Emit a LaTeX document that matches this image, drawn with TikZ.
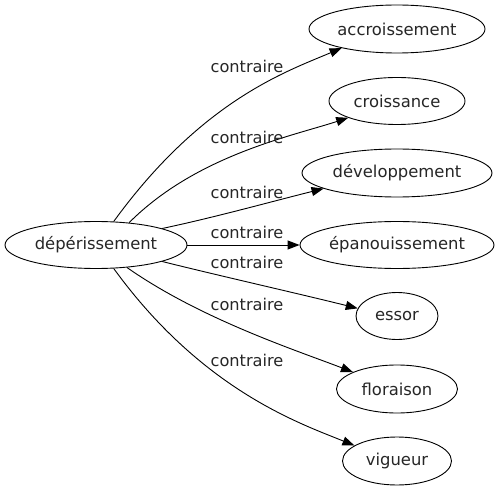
\documentclass[tikz,border=0pt]{standalone}
\usepackage{fontspec}
\setmainfont{DejaVu Sans}
\usetikzlibrary{shapes.geometric,arrows.meta}
\begin{document}
\begin{tikzpicture}[x=1pt,y=1pt,
  word/.style={draw=black,line width=0.9pt,ellipse,inner sep=0pt,font=\fontsize{16.4}{19}\selectfont,text=black!85},
  lbl/.style={font=\fontsize{16.2}{19}\selectfont,text=black!85,inner sep=0pt},
  rel/.style={draw=black,line width=0.9pt,-{Triangle[length=12pt,width=9pt]}}]
\useasboundingbox (0,0) rectangle (501,491);
\node[word,minimum width=182pt,minimum height=47pt] (d) at (96,246) {dépérissement};
\node[word,minimum width=176pt,minimum height=48pt] (acc) at (397,462) {accroissement};
\node[word,minimum width=136pt,minimum height=47pt] (cro) at (397,390) {croissance};
\node[word,minimum width=190pt,minimum height=48pt] (dev) at (397,318) {développement};
\node[word,minimum width=194pt,minimum height=47pt] (epa) at (397,246) {épanouissement};
\node[word,minimum width=82pt,minimum height=47pt] (ess) at (397,175) {essor};
\node[word,minimum width=121pt,minimum height=48pt] (flo) at (397,102) {floraison};
\node[word,minimum width=109pt,minimum height=48pt] (vig) at (397,30) {vigueur};
\draw[rel] (d.53) .. controls +(54:150) and +(203:60) .. (acc.199);
\draw[rel] (d.34) .. controls +(45:95) and +(198:60) .. (cro.199);
\draw[rel] (d.14) .. controls +(12:55) and +(194:55) .. (dev.192);
\draw[rel] (d) -- (epa);
\draw[rel] (d.-14.5) .. controls +(-14:60) and +(166:60) .. (ess.169);
\draw[rel] (d.-36) .. controls +(-35:90) and +(159:60) .. (flo.159);
\draw[rel] (d.-53) .. controls +(-54:150) and +(158:60) .. (vig.160);
\node[lbl] (l1) at (247,425) {contraire};
\node[lbl] (l2) at (247,354) {contraire};
\node[lbl] (l3) at (247,299) {contraire};
\node[lbl] (l4) at (247,259) {contraire};
\node[lbl] (l5) at (247,229) {contraire};
\node[lbl] (l6) at (247,187) {contraire};
\node[lbl] (l7) at (247,131) {contraire};
\end{tikzpicture}
\end{document}
